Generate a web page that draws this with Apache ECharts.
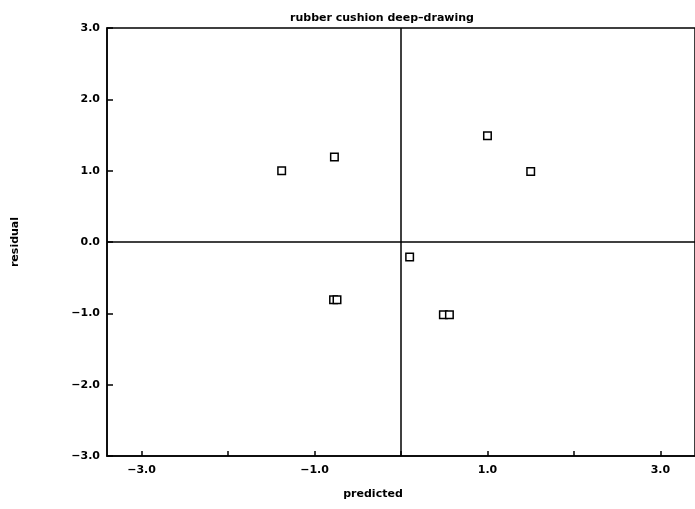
<!DOCTYPE html>
<html>
<head>
<meta charset="utf-8">
<script src="https://cdn.jsdelivr.net/npm/echarts@6/dist/echarts.min.js"></script>
<style>
  html, body { margin: 0; padding: 0; background: #fff; }
  #chart { width: 695px; height: 509px; }
</style>
</head>
<body>
<div id="chart"></div>
<script>
  // residual plot values
  var predicted = [-1.38, -0.77, 1.00, 1.50, 0.10, -0.78, -0.74, 0.49, 0.56];
  var residual  = [1.00, 1.19, 1.49, 0.99, -0.21, -0.81, -0.81, -1.02, -1.02];
  var xTicks = [-3, -2, -1, 0, 1, 2, 3];
  var xLabels = [-3, -1, 1, 3];

  var points = predicted.map(function (p, i) { return [p, residual[i]]; });

  function fmt(v) {
    return v.toFixed(1).replace('-', '\u2212');
  }

  var myChart = echarts.init(document.getElementById('chart'));
  var font = 'DejaVu Sans';

  var option = {
    animation: false,
    title: {
      text: 'rubber cushion deep\u2013drawing',
      left: 377,
      top: 8,
      textAlign: 'center',
      textStyle: { fontFamily: font, fontSize: 11, fontWeight: 'bold', color: '#000' }
    },
    grid: {
      left: 107,
      top: 28,
      width: 588,
      height: 428,
      show: true,
      borderColor: '#000',
      borderWidth: 1.5
    },
    xAxis: {
      type: 'value',
      min: -3.4,
      max: 3.4,
      name: 'predicted',
      nameLocation: 'middle',
      nameGap: 33,
      nameTextStyle: { fontFamily: font, fontSize: 11, fontWeight: 'bold', color: '#000', padding: [0, 56, 0, 0] },
      axisLine: { onZero: false, lineStyle: { color: '#000', width: 1.5 } },
      axisTick: { inside: true, length: 5, customValues: xTicks, lineStyle: { color: '#000', width: 1.5 } },
      axisLabel: {
        customValues: xLabels,
        margin: 9,
        formatter: fmt,
        fontFamily: font, fontSize: 11, fontWeight: 'bold', color: '#000'
      },
      splitLine: { show: false }
    },
    yAxis: {
      type: 'value',
      min: -3,
      max: 3,
      interval: 1,
      name: 'residual',
      nameLocation: 'middle',
      nameGap: 86,
      nameRotate: 90,
      nameTextStyle: { fontFamily: font, fontSize: 11, fontWeight: 'bold', color: '#000' },
      axisLine: { onZero: false, lineStyle: { color: '#000', width: 1.5 } },
      axisTick: { inside: true, length: 6, lineStyle: { color: '#000', width: 1.5 } },
      axisLabel: {
        margin: 7,
        formatter: fmt,
        fontFamily: font, fontSize: 11, fontWeight: 'bold', color: '#000'
      },
      splitLine: { show: false }
    },
    series: [
      {
        type: 'scatter',
        data: points,
        symbol: 'rect',
        symbolSize: 7.5,
        itemStyle: { color: '#fff', borderColor: '#000', borderWidth: 1.5, opacity: 1 },
        markLine: {
          silent: true,
          symbol: 'none',
          label: { show: false },
          lineStyle: { color: '#000', width: 1.5, type: 'solid' },
          data: [{ xAxis: 0 }, { yAxis: 0 }]
        }
      }
    ]
  };
  myChart.setOption(option);
</script>
</body>
</html>
